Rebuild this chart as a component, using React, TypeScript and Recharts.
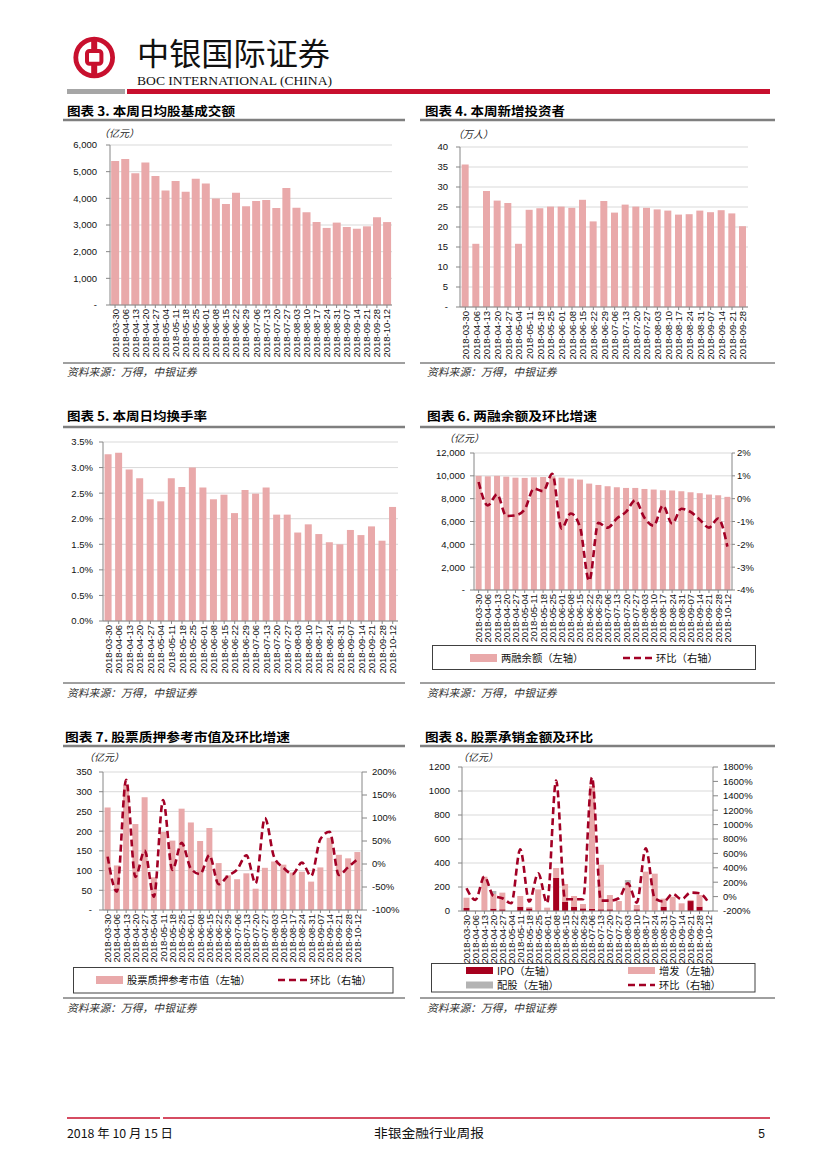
import React from 'react';
import { ComposedChart, BarChart, Bar, Line, XAxis, YAxis, CartesianGrid } from 'recharts';

const SANS = "'Liberation Sans', Arial, Helvetica, sans-serif";
const CJK = "'Noto Sans CJK SC', 'Noto Sans', sans-serif";
const PINK = '#E9A9AA';
const RED = '#A20025';
const IPO_RED = '#A6001E';
const GRAYBAR = '#B3B3B3';
const AXIS = '#868686';
const GRID = '#D9D9D9';
const BRAND = '#C8102E';

// ---------- categories ----------
const dates28 = ['2018-03-30', '2018-04-06', '2018-04-13', '2018-04-20', '2018-04-27', '2018-05-04', '2018-05-11', '2018-05-18', '2018-05-25', '2018-06-01', '2018-06-08', '2018-06-15', '2018-06-22', '2018-06-29', '2018-07-06', '2018-07-13', '2018-07-20', '2018-07-27', '2018-08-03', '2018-08-10', '2018-08-17', '2018-08-24', '2018-08-31', '2018-09-07', '2018-09-14', '2018-09-21', '2018-09-28', '2018-10-12'];
const dates27 = ['2018-03-30', '2018-04-06', '2018-04-13', '2018-04-20', '2018-04-27', '2018-05-04', '2018-05-11', '2018-05-18', '2018-05-25', '2018-06-01', '2018-06-08', '2018-06-15', '2018-06-22', '2018-06-29', '2018-07-06', '2018-07-13', '2018-07-20', '2018-07-27', '2018-08-03', '2018-08-10', '2018-08-17', '2018-08-24', '2018-08-31', '2018-09-07', '2018-09-14', '2018-09-21', '2018-09-28'];

// ---------- series ----------
const turnover3 = [5400, 5475, 4940, 5340, 4840, 4290, 4650, 4250, 4730, 4560, 3990, 3790, 4210, 3700, 3900, 3940, 3640, 4390, 3650, 3475, 3110, 2890, 3090, 2925, 2860, 2950, 3290, 3110];
const newInvestors4 = [35.6, 15.8, 29.0, 26.6, 26.0, 15.8, 24.3, 24.7, 25.1, 25.1, 24.8, 26.8, 21.4, 26.5, 23.6, 25.6, 25.1, 24.8, 24.4, 24.1, 23.1, 23.2, 24.1, 23.7, 24.2, 23.4, 20.2];
const turnoverRate5 = [3.26, 3.29, 2.96, 2.79, 2.38, 2.34, 2.79, 2.62, 3.0, 2.61, 2.38, 2.47, 2.11, 2.56, 2.49, 2.61, 2.08, 2.08, 1.73, 1.89, 1.7, 1.54, 1.5, 1.78, 1.68, 1.85, 1.57, 2.23];
const margin6 = [10000, 9960, 10000, 9930, 9840, 9820, 9870, 9900, 9960, 9840, 9760, 9670, 9320, 9200, 9090, 9000, 8940, 8940, 8850, 8800, 8740, 8710, 8650, 8560, 8480, 8360, 8300, 8160];
const marginChg6 = [0.73, -0.3, 0.19, -0.76, -0.73, -0.47, 0.44, 0.33, 1.09, -1.31, -0.65, -1.24, -3.6, -1.06, -1.27, -0.87, -0.58, -0.07, -0.84, -1.19, -0.3, -1.09, -0.44, -0.58, -0.92, -1.27, -0.87, -2.1];
const pledge7 = [260, 113, 317, 218, 286, 83, 198, 176, 257, 222, 175, 208, 119, 88, 78, 93, 54, 107, 123, 115, 95, 97, 72, 108, 183, 140, 131, 147];
const pledgeChg7 = [16, -60, 183, -28, 29, -71, 139, -13, 46, -10, -22, 19, -44, -26, -12, 19, -42, 100, 15, -8, -22, 3, -26, 54, 70, -24, -7, 10];
const ipo8 = [25, 0, 0, 20, 14, 0, 36, 22, 0, 0, 275, 75, 36, 22, 17, 14, 14, 0, 0, 14, 0, 0, 36, 0, 0, 83, 36, 0];
const seo8 = [86, 3, 286, 122, 139, 0, 89, 11, 180, 28, 83, 150, 89, 36, 1025, 372, 119, 83, 230, 36, 328, 311, 67, 119, 64, 9, 97, 0];
const rights8 = [0, 0, 0, 25, 0, 0, 0, 0, 0, 0, 0, 0, 0, 0, 0, 0, 0, 0, 28, 0, 0, 0, 0, 0, 0, 0, 0, 0];
const underChg8 = [116, -46, 278, 9, -23, -93, 657, -69, 324, -90, 1611, -37, -37, -37, 1657, -56, -56, -23, 185, -83, 671, -23, -69, 37, -37, 56, 46, -83];

// ---------- ticks ----------
const ticks3 = [0, 1000, 2000, 3000, 4000, 5000, 6000];
const ticks4 = [0, 5, 10, 15, 20, 25, 30, 35, 40];
const ticks5 = [0, 0.5, 1.0, 1.5, 2.0, 2.5, 3.0, 3.5];
const ticks6L = [0, 2000, 4000, 6000, 8000, 10000, 12000];
const ticks6R = [-4, -3, -2, -1, 0, 1, 2];
const ticks7L = [0, 50, 100, 150, 200, 250, 300, 350];
const ticks7R = [-100, -50, 0, 50, 100, 150, 200];
const ticks8L = [0, 200, 400, 600, 800, 1000, 1200];
const ticks8R = [-200, 0, 200, 400, 600, 800, 1000, 1200, 1400, 1600, 1800];

// ---------- tables ----------
const data3 = dates28.map((d, i) => ({ date: d, value: turnover3[i] }));
const data4 = dates27.map((d, i) => ({ date: d, value: newInvestors4[i] }));
const data5 = dates28.map((d, i) => ({ date: d, value: turnoverRate5[i] }));
const data6 = dates28.map((d, i) => ({ date: d, bal: margin6[i], chg: marginChg6[i] }));
const data7 = dates28.map((d, i) => ({ date: d, val: pledge7[i], chg: pledgeChg7[i] }));
const data8 = dates28.map((d, i) => ({ date: d, ipo: ipo8[i], seo: seo8[i], rights: rights8[i], chg: underChg8[i] }));

const fmtDash = (v: number) => (v === 0 ? '-' : v.toLocaleString('en-US'));
const fmtPct1 = (v: number) => v.toFixed(1) + '%';
const fmtPct = (v: number) => v + '%';

function RotTick(props: any) {
  const { x, y, payload } = props;
  return (
    <text x={x} y={y} transform={`rotate(-90 ${x} ${y})`} textAnchor="end" dominantBaseline="central" fontSize={9.5} fontFamily={SANS} fill="#111">
      {payload.value}
    </text>
  );
}

const yTick = { fontSize: 9.5, fill: '#111', fontFamily: SANS };

function xAxisEl() {
  return (
    <XAxis
      dataKey="date"
      xAxisId={0}
      interval={0}
      height={60}
      tickSize={3}
      tickMargin={1}
      axisLine={{ stroke: AXIS }}
      tickLine={{ stroke: AXIS }}
      tick={(p: any) => <RotTick {...p} />}
    />
  );
}

const Src = ({ x, y }: { x: number; y: number }) => (
  <text x={x} y={y} fontSize={10.8} fontStyle="italic" fontFamily={CJK} fill="#333">资料来源：万得，中银证券</text>
);

const Title = ({ x, y, w, children }: any) => (
  <text x={x} y={y} fontSize={12.5} fontWeight={700} fontFamily={CJK} fill="#000" textLength={w} lengthAdjust="spacingAndGlyphs">{children}</text>
);

const Unit = ({ x, y, children }: any) => (
  <text x={x} y={y} fontSize={10} fontStyle="italic" fontFamily={CJK} fill="#222">{children}</text>
);

const LegText = ({ x, y, children }: any) => (
  <text x={x} y={y} fontSize={10.3} fontFamily={CJK} fill="#111">{children}</text>
);

function Overlay() {
  return (
    <svg width={827} height={1169} style={{ position: 'absolute', left: 0, top: 0, pointerEvents: 'none' }}>
      {/* Header logo */}
      <circle cx={94.2} cy={57.5} r={18.4} fill="none" stroke={BRAND} strokeWidth={4.8} />
      <rect x={91.2} y={38} width={6} height={39} fill={BRAND} />
      <rect x={87} y={51} width={14.4} height={12.8} rx={2.5} fill="#fff" stroke={BRAND} strokeWidth={4} />
      <text x={137} y={64.5} fontSize={31} fontFamily={CJK} fill="#111" textLength={193} lengthAdjust="spacingAndGlyphs">中银国际证券</text>
      <text x={137} y={84.5} fontSize={13.5} fontFamily="'Liberation Serif', 'Times New Roman', serif" fill="#111" textLength={195} lengthAdjust="spacingAndGlyphs">BOC INTERNATIONAL (CHINA)</text>
      <rect x={67} y={89} width={58} height={5} fill="#A6A6A6" />
      <rect x={127} y={89} width={643} height={5} fill={BRAND} />

      {/* Titles */}
      <Title x={67} y={115.5} w={168}>图表 3. 本周日均股基成交额</Title>
      <Title x={425} y={115.5} w={140}>图表 4. 本周新增投资者</Title>
      <Title x={67} y={421} w={140}>图表 5. 本周日均换手率</Title>
      <Title x={427} y={421} w={170}>图表 6. 两融余额及环比增速</Title>
      <Title x={65} y={742} w={225}>图表 7. 股票质押参考市值及环比增速</Title>
      <Title x={425} y={742} w={168}>图表 8. 股票承销金额及环比</Title>
      {[120, 427, 746].map((y) => (
        <g key={y}>
          <line x1={63} x2={405} y1={y} y2={y} stroke="#7F7F7F" strokeWidth={2.5} />
          <line x1={420} x2={775} y1={y} y2={y} stroke="#7F7F7F" strokeWidth={2.5} />
        </g>
      ))}

      {/* Units */}
      <Unit x={99} y={137}>（亿元）</Unit>
      <Unit x={453} y={138}>（万人）</Unit>
      <Unit x={444} y={442}>（亿元）</Unit>
      <Unit x={84} y={761}>（亿元）</Unit>
      <Unit x={458} y={761}>（亿元）</Unit>

      {/* Source lines */}
      {[363, 683, 998].map((y) => (
        <g key={'s' + y}>
          <line x1={63} x2={405} y1={y} y2={y} stroke="#404040" strokeWidth={1} />
          <line x1={420} x2={775} y1={y} y2={y} stroke="#404040" strokeWidth={1} />
        </g>
      ))}
      <Src x={67} y={376} />
      <Src x={427} y={376} />
      <Src x={67} y={697} />
      <Src x={427} y={697} />
      <Src x={67} y={1012} />
      <Src x={427} y={1012} />

      {/* Legend chart 6 */}
      <rect x={432.5} y={645.5} width={323} height={24} fill="none" stroke="#404040" strokeWidth={1} />
      <rect x={470} y={654} width={27} height={8} fill={PINK} />
      <LegText x={501} y={661.5}>两融余额（左轴）</LegText>
      <line x1={623} x2={653} y1={658} y2={658} stroke={RED} strokeWidth={2.5} strokeDasharray="7 4" />
      <LegText x={656} y={661.5}>环比（右轴）</LegText>

      {/* Legend chart 7 */}
      <rect x={73.5} y={967.5} width={319.5} height={25.5} fill="none" stroke="#404040" strokeWidth={1} />
      <rect x={96} y={976} width={27} height={8} fill={PINK} />
      <LegText x={127} y={984}>股票质押参考市值（左轴）</LegText>
      <line x1={278} x2={307} y1={980} y2={980} stroke={RED} strokeWidth={2.5} strokeDasharray="7 4" />
      <LegText x={310} y={984}>环比（右轴）</LegText>

      {/* Legend chart 8 */}
      <rect x={431.5} y={963.5} width={323.5} height={28.5} fill="none" stroke="#404040" strokeWidth={1} />
      <rect x={466} y={967} width={27} height={7} fill={IPO_RED} />
      <LegText x={497} y={974.5}>IPO（左轴）</LegText>
      <rect x={628} y={967} width={27} height={7} fill={PINK} />
      <LegText x={659} y={974.5}>增发（左轴）</LegText>
      <rect x={466} y={981.5} width={27} height={7} fill={GRAYBAR} />
      <LegText x={497} y={989}>配股（左轴）</LegText>
      <line x1={628} x2={655} y1={985} y2={985} stroke={RED} strokeWidth={2.5} strokeDasharray="7 4" />
      <LegText x={659} y={989}>环比（右轴）</LegText>

      {/* Footer */}
      <line x1={67} x2={160} y1={1118} y2={1118} stroke={BRAND} strokeWidth={1.6} />
      <line x1={163} x2={770} y1={1118} y2={1118} stroke={BRAND} strokeWidth={1.6} />
      <text x={67} y={1138} fontSize={12} fontFamily={CJK} fill="#111" textLength={106} lengthAdjust="spacingAndGlyphs">2018 年 10 月 15 日</text>
      <text x={374} y={1138} fontSize={12.5} fontFamily={CJK} fill="#111" textLength={110} lengthAdjust="spacingAndGlyphs">非银金融行业周报</text>
      <text x={765} y={1138} fontSize={12} fontFamily={SANS} fill="#111" textAnchor="end">5</text>
    </svg>
  );
}

export default function App() {
  return (
    <div style={{ position: 'absolute', left: 0, top: 0, width: 827, height: 1169, background: '#fff', overflow: 'hidden' }}>
      {/* Chart 3 */}
      <div style={{ position: 'absolute', left: 60, top: 135 }}>
        <BarChart width={337} height={230} data={data3} margin={{ top: 10, right: 5, bottom: 0, left: 0 }} barCategoryGap="11.5%">
          <CartesianGrid vertical={false} stroke={GRID} />
          {xAxisEl()}
          <YAxis width={50} domain={[0, 6000]} ticks={ticks3} interval={0} tickFormatter={fmtDash} tick={yTick} tickSize={4} tickMargin={9} axisLine={{ stroke: AXIS }} tickLine={{ stroke: AXIS }} />
          <Bar dataKey="value" fill={PINK} isAnimationActive={false} />
        </BarChart>
      </div>

      {/* Chart 4 */}
      <div style={{ position: 'absolute', left: 415, top: 137 }}>
        <BarChart width={338} height={230} data={data4} margin={{ top: 10, right: 5, bottom: 0, left: 0 }} barCategoryGap="15.5%">
          <CartesianGrid vertical={false} stroke={GRID} />
          {xAxisEl()}
          <YAxis width={45} domain={[0, 40]} ticks={ticks4} interval={0} tickFormatter={fmtDash} tick={yTick} tickSize={4} tickMargin={8} axisLine={{ stroke: AXIS }} tickLine={{ stroke: AXIS }} />
          <Bar dataKey="value" fill={PINK} isAnimationActive={false} />
        </BarChart>
      </div>

      {/* Chart 5 */}
      <div style={{ position: 'absolute', left: 58, top: 432 }}>
        <BarChart width={345} height={249} data={data5} margin={{ top: 10, right: 5, bottom: 0, left: 0 }} barCategoryGap="15%">
          <CartesianGrid vertical={false} stroke={GRID} />
          {xAxisEl()}
          <YAxis width={45} domain={[0, 3.5]} ticks={ticks5} interval={0} tickFormatter={fmtPct1} tick={yTick} tickSize={4} tickMargin={6} axisLine={{ stroke: AXIS }} tickLine={{ stroke: AXIS }} />
          <Bar dataKey="value" fill={PINK} isAnimationActive={false} />
        </BarChart>
      </div>

      {/* Chart 6 */}
      <div style={{ position: 'absolute', left: 419, top: 443 }}>
        <ComposedChart width={355} height={207} data={data6} margin={{ top: 10, right: 2, bottom: 0, left: 0 }} barCategoryGap="17.5%">
          <CartesianGrid vertical={false} stroke={GRID} yAxisId="left" />
          {xAxisEl()}
          <YAxis yAxisId="left" width={55} domain={[0, 12000]} ticks={ticks6L} interval={0} tickFormatter={fmtDash} tick={yTick} tickSize={4} tickMargin={5} axisLine={{ stroke: AXIS }} tickLine={{ stroke: AXIS }} />
          <YAxis yAxisId="right" orientation="right" width={40} domain={[-4, 2]} ticks={ticks6R} interval={0} tickFormatter={fmtPct} tick={yTick} tickSize={3} tickMargin={2} axisLine={{ stroke: AXIS }} tickLine={{ stroke: AXIS }} />
          <Bar yAxisId="left" dataKey="bal" fill={PINK} isAnimationActive={false} />
          <Line yAxisId="right" dataKey="chg" type="monotone" stroke={RED} strokeWidth={2.6} strokeDasharray="7 4" dot={false} isAnimationActive={false} />
        </ComposedChart>
      </div>

      {/* Chart 7 */}
      <div style={{ position: 'absolute', left: 58, top: 762 }}>
        <ComposedChart width={351} height={208} data={data7} margin={{ top: 10, right: 2, bottom: 0, left: 0 }} barCategoryGap="17.5%">
          <CartesianGrid vertical={false} stroke={GRID} yAxisId="left" />
          {xAxisEl()}
          <YAxis yAxisId="left" width={45} domain={[0, 350]} ticks={ticks7L} interval={0} tickFormatter={fmtDash} tick={yTick} tickSize={4} tickMargin={7} axisLine={{ stroke: AXIS }} tickLine={{ stroke: AXIS }} />
          <YAxis yAxisId="right" orientation="right" width={45} domain={[-100, 200]} ticks={ticks7R} interval={0} tickFormatter={fmtPct} tick={yTick} tickSize={5} tickMargin={5} axisLine={{ stroke: AXIS }} tickLine={{ stroke: AXIS }} />
          <Bar yAxisId="left" dataKey="val" fill={PINK} isAnimationActive={false} />
          <Line yAxisId="right" dataKey="chg" type="monotone" stroke={RED} strokeWidth={2.6} strokeDasharray="7 4" dot={false} isAnimationActive={false} />
        </ComposedChart>
      </div>

      {/* Chart 8 */}
      <div style={{ position: 'absolute', left: 417, top: 757 }}>
        <ComposedChart width={348} height={214} data={data8} margin={{ top: 10, right: 2, bottom: 0, left: 0 }} barCategoryGap="16.5%">
          <CartesianGrid vertical={false} stroke={GRID} yAxisId="left" />
          {xAxisEl()}
          <YAxis yAxisId="left" width={45} domain={[0, 1200]} ticks={ticks8L} interval={0} tick={yTick} tickSize={4} tickMargin={8} axisLine={{ stroke: AXIS }} tickLine={{ stroke: AXIS }} />
          <YAxis yAxisId="right" orientation="right" width={50} domain={[-200, 1800]} ticks={ticks8R} interval={0} tickFormatter={fmtPct} tick={yTick} tickSize={5} tickMargin={5} axisLine={{ stroke: AXIS }} tickLine={{ stroke: AXIS }} />
          <Bar yAxisId="left" dataKey="ipo" stackId="s" fill={IPO_RED} isAnimationActive={false} />
          <Bar yAxisId="left" dataKey="seo" stackId="s" fill={PINK} isAnimationActive={false} />
          <Bar yAxisId="left" dataKey="rights" stackId="s" fill={GRAYBAR} isAnimationActive={false} />
          <Line yAxisId="right" dataKey="chg" type="monotone" stroke={RED} strokeWidth={2.6} strokeDasharray="7 4" dot={false} isAnimationActive={false} />
        </ComposedChart>
      </div>

      <Overlay />
    </div>
  );
}
